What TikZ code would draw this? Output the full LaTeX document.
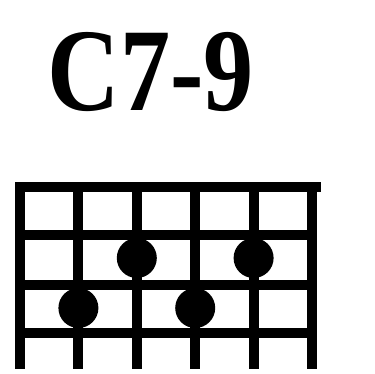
\documentclass[tikz,border=0pt]{standalone}
\usepackage{fontspec}
\setmainfont{Liberation Serif}
\tikzset{
  gridline/.style={line width=10pt, black},
  fingerdot/.style={circle, fill=black, inner sep=0pt, minimum size=40pt},
}
\begin{document}
\begin{tikzpicture}[x=1pt,y=1pt]
\useasboundingbox (0,0) rectangle (374,374);
% title
\node[font=\bfseries\fontsize{118}{118}\selectfont, xscale=0.85, inner sep=0pt] (title) at (151,302) {C7-9};
% nut / top line
\draw[gridline] (15,187) -- (321,187);
% frets
\foreach \y in {139,89,41} {
  \draw[gridline] (20,\y) -- (312,\y);
}
% strings
\foreach \x in {20,78.4,136.8,195.2,253.6,312} {
  \draw[gridline] (\x,191) -- (\x,5);
}
% finger dots
\node[fingerdot] (d1) at (136.8,116) {};
\node[fingerdot] (d2) at (253.6,116) {};
\node[fingerdot] (d3) at (78.4,66) {};
\node[fingerdot] (d4) at (195.2,66) {};
\end{tikzpicture}
\end{document}
